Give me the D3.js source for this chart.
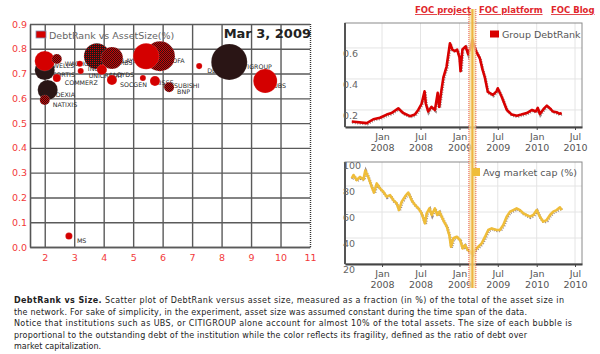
<!DOCTYPE html>
<html lang="en">
<head>
<meta charset="utf-8">
<title>DebtRank vs Size</title>
<script src="https://d3js.org/d3.v7.min.js"></script>
<style>
  body { margin: 0; background: #fff; }
  svg { display: block; font-family: "DejaVu Sans", Verdana, sans-serif; }
  .link { font-weight: bold; fill: #e0262c; font-size: 8.5px; text-decoration: underline; }
  .bankLabel { font-size: 6.3px; fill: #2a2a2a; }
  .caption { font-size: 8px; fill: #222; }
</style>
</head>
<body>
<svg width="600" height="354"></svg>
<script>

  // ---------- scatter data (drawing order) ----------
  var banks     = ["FORTIS", "WELLS", "WACHOVIA", "COMMERZ", "DEXIA", "NATIXIS", "ING", "UNICREDIT",
                   "BARCLAYS", "RBS", "LLOYDS", "SOCGEN", "CAISSE", "BOFA", "HSBC", "MITSUBISHI",
                   "BNP", "DEUTSCHE", "CITIGROUP", "UBS", "MS"];
  var assetSize = [2.0, 2.0, 2.41, 2.41, 2.1, 2.0, 3.19, 3.22,
                   3.77, 4.28, 3.94, 4.28, 5.33, 5.91, 5.44, 5.74,
                   6.22, 7.24, 8.26, 9.48, 2.82];
  var debtRank  = [0.714, 0.751, 0.759, 0.682, 0.634, 0.593, 0.74, 0.71,
                   0.77, 0.763, 0.715, 0.674, 0.682, 0.77, 0.77, 0.67,
                   0.645, 0.73, 0.747, 0.67, 0.044];
  var debt      = [31, 31, 7.7, 4.9, 31, 7.7, 2.8, 2.8,
                   52, 37, 7.7, 7.7, 2.8, 69, 52, 7.7,
                   7.7, 2.8, 100, 44, 3.8];
  // 0 = low fragility ... 3 = high fragility
  var fragility = [3, 0, 1, 0, 3, 1, 0, 0,
                   2, 1, 0, 0, 0, 1, 0, 0,
                   1, 0, 3, 0, 0];
  var xTicks = [2, 3, 4, 5, 6, 7, 8, 9, 10, 11];
  var yTicks = [0, 0.1, 0.2, 0.3, 0.4, 0.5, 0.6, 0.7, 0.8, 0.9];
  var snapshotDate = "2009-03-03";

  // ---------- Group DebtRank series ----------
  var drDates = ["2007-08-11","2007-10-21","2007-11-21","2007-12-22","2008-01-23","2008-02-15","2008-03-18",
    "2008-04-10","2008-05-12","2008-06-04","2008-06-20","2008-07-06","2008-07-20","2008-07-26","2008-08-06",
    "2008-08-22","2008-09-07","2008-09-20","2008-09-27","2008-10-08","2008-10-17","2008-11-01","2008-11-17",
    "2008-11-28","2008-12-10","2008-12-21","2009-01-01","2009-01-06","2009-01-15","2009-01-30","2009-02-11",
    "2009-02-24","2009-03-03","2009-03-20","2009-04-07","2009-04-20","2009-05-01","2009-05-15","2009-06-08",
    "2009-06-25","2009-07-01","2009-07-20","2009-08-13","2009-09-05","2009-09-29","2009-10-20","2009-11-15",
    "2009-12-10","2009-12-28","2010-01-06","2010-01-16","2010-02-05","2010-02-18","2010-03-05","2010-03-18",
    "2010-04-05","2010-04-20","2010-04-29"];
  var drValues = [0.125, 0.115, 0.14, 0.15, 0.17, 0.18, 0.21,
    0.18, 0.16, 0.17, 0.2, 0.24, 0.32, 0.24, 0.19,
    0.22, 0.2, 0.31, 0.22, 0.33, 0.41, 0.48, 0.63,
    0.59, 0.58, 0.59, 0.54, 0.45, 0.59, 0.61, 0.56,
    0.61, 0.65, 0.58, 0.535, 0.46, 0.41, 0.316, 0.297,
    0.32, 0.34, 0.284, 0.2, 0.17, 0.163, 0.17, 0.18,
    0.2, 0.19, 0.213, 0.174, 0.21, 0.228, 0.21, 0.19,
    0.185, 0.175, 0.18];

  // ---------- Avg market cap series ----------
  var mcDates = ["2007-08-11","2007-08-19","2007-09-03","2007-09-19","2007-10-05","2007-10-14","2007-10-28",
    "2007-11-13","2007-11-24","2007-12-07","2007-12-23","2008-01-07","2008-01-23","2008-02-08","2008-02-24",
    "2008-03-10","2008-03-21","2008-04-03","2008-04-19","2008-05-04","2008-05-20","2008-06-05","2008-06-21",
    "2008-07-06","2008-07-22","2008-07-30","2008-08-12","2008-08-23","2008-09-07","2008-09-18","2008-09-28",
    "2008-10-09","2008-10-20","2008-11-02","2008-11-14","2008-11-22","2008-12-03","2008-12-19","2009-01-04",
    "2009-01-16","2009-01-27","2009-02-09","2009-02-20","2009-03-04","2009-03-15","2009-03-31","2009-04-16",
    "2009-05-02","2009-05-17","2009-06-02","2009-06-26","2009-07-11","2009-07-27","2009-08-12","2009-08-28",
    "2009-09-12","2009-09-28","2009-10-14","2009-10-30","2009-11-14","2009-11-30","2009-12-16","2010-01-01",
    "2010-01-16","2010-02-01","2010-02-17","2010-03-05","2010-03-20","2010-04-05","2010-04-21","2010-04-29"];
  var mcValues = [86, 88.5, 84.6, 87, 85, 92, 87,
    79.5, 75, 82, 78, 75.6, 71.8, 73, 69,
    66.7, 61.5, 68, 72, 75, 69, 65.4, 62.8,
    59, 51.3, 59, 62.8, 57.7, 62.8, 57.7, 60.3,
    56.4, 52.6, 48.7, 42.3, 33.3, 39.8, 41, 38.5,
    32, 34.6, 30.8, 29.5, 27.7, 30.8, 33.3, 35.9,
    41, 46.2, 47.4, 46.2, 46.2, 50, 56.4, 60.3,
    61.5, 62.8, 61.5, 59, 57.7, 56.4, 57.7, 61.5,
    56.4, 52.6, 53.8, 57.7, 60.3, 61.5, 63.6, 61.5];

  var captionLines = [
    " Scatter plot of DebtRank versus asset size, measured as a fraction (in %) of the total of the asset size in",
    "the network. For sake of simplicity, in the experiment, asset size was assumed constant during the time span of the data.",
    "Notice that institutions such as UBS, or CITIGROUP alone account for almost 10% of the total assets. The size of each bubble is",
    "proportional to the outstanding debt of the institution while the color reflects its fragility, defined as the ratio of debt over",
    "market capitalization."
  ];
  var linkLabels = ["FOC project", "FOC platform", "FOC Blog"];

  var svg = d3.select("svg");
  var red = "#d40000", dark = "#2a1515", tickRed = "#f23a3a", font = "DejaVu Sans";
  var parse = d3.timeParse("%Y-%m-%d");

  // checker patterns for mid fragility
  var defs = svg.append("defs");
  function checker(id, base, dot, both) {
    var p = defs.append("pattern").attr("id", id).attr("width", 2).attr("height", 2)
      .attr("patternUnits", "userSpaceOnUse");
    p.append("rect").attr("width", 2).attr("height", 2).attr("fill", base);
    p.append("rect").attr("width", 1).attr("height", 1).attr("fill", dot);
    if (both) p.append("rect").attr("x", 1).attr("y", 1).attr("width", 1).attr("height", 1).attr("fill", dot);
  }
  checker("chkRed", red, dark, true);
  checker("chkDark", dark, red, false);

  // ================= scatter =================
  var x = d3.scaleLinear().domain([1.5, 11]).range([30, 310]);
  var y = d3.scaleLinear().domain([0, 0.9]).range([247, 24]);
  var r = d3.scaleSqrt().domain([0, 100]).range([0, 18]);
  var fill = d3.scaleOrdinal().domain([0, 1, 2, 3]).range([red, "url(#chkRed)", "url(#chkDark)", dark]);

  var gx = svg.append("g").attr("transform", "translate(0,247)")
    .call(d3.axisBottom(x).tickValues(xTicks).tickSize(-223).tickSizeOuter(0).tickPadding(7)
      .tickFormat(d3.format("d")));
  var gy = svg.append("g").attr("transform", "translate(30,0)")
    .call(d3.axisLeft(y).tickValues(yTicks).tickSize(-280).tickSizeOuter(0).tickPadding(3)
      .tickFormat(d3.format(".1f")));
  [gx, gy].forEach(function(g) {
    g.attr("font-family", font).attr("font-size", 9.5);
    g.select(".domain").attr("stroke", "#555").attr("stroke-width", 1.6);
    g.selectAll(".tick line").attr("stroke", "#5a5a5a").attr("stroke-width", 1.4);
    g.selectAll(".tick text").attr("fill", tickRed);
  });
  gx.selectAll(".tick line").filter(function(d) { return d === 11; })
    .attr("stroke-dasharray", "1,1").attr("stroke", "#333");

  var pts = banks.map(function(b, i) {
    return {name: b, x: assetSize[i], y: debtRank[i], debt: debt[i], frag: fragility[i]};
  });

  svg.append("g").selectAll("text").data(pts).join("text")
    .attr("class", "bankLabel")
    .attr("x", function(d) { return x(d.x) + 8; })
    .attr("y", function(d) { return y(d.y) + 7; })
    .text(function(d) { return d.name; });

  svg.append("g").selectAll("circle").data(pts).join("circle")
    .attr("cx", function(d) { return x(d.x); })
    .attr("cy", function(d) { return y(d.y); })
    .attr("r", function(d) { return r(d.debt); })
    .attr("fill", function(d) { return fill(d.frag); })
    .attr("stroke", "rgba(255,255,255,0.25)").attr("stroke-width", 0.5);

  // scatter legend and date
  svg.append("rect").attr("x", 36).attr("y", 31).attr("width", 10).attr("height", 7)
    .attr("fill", red).attr("stroke", "#8090b0").attr("stroke-width", 0.8);
  svg.append("text").attr("x", 49).attr("y", 38.5).attr("font-size", 9.5).attr("fill", "#666")
    .text("DebtRank vs AssetSize(%)");
  svg.append("text").attr("x", 311).attr("y", 38).attr("text-anchor", "end")
    .attr("font-size", 13).attr("font-weight", "bold").attr("fill", "#222")
    .text(d3.timeFormat("%b %-d, %Y")(parse(snapshotDate)));

  // ================= time series panels =================
  var t = d3.scaleTime().domain([new Date(2007, 6, 10), new Date(2010, 7, 3)]).range([345, 582]);
  var monthTicks = t.ticks(d3.timeMonth.every(6));

  function panel(top, bottom, yDomain, ticks, fmt, dates, values, color) {
    var ys = d3.scaleLinear().domain(yDomain).range([bottom, top]);
    var g = svg.append("g");
    g.append("g").selectAll("line").data(monthTicks).join("line")
      .attr("x1", t).attr("x2", t).attr("y1", top).attr("y2", bottom)
      .attr("stroke", "#e4e4e4").attr("stroke-width", 1);
    g.append("g").selectAll("line").data(ticks.filter(function(v) { return ys(v) > top && ys(v) < bottom; }))
      .join("line")
      .attr("x1", 345).attr("x2", 582).attr("y1", ys).attr("y2", ys)
      .attr("stroke", "#e4e4e4").attr("stroke-width", 1);

    var data = dates.map(function(d, i) { return [parse(d), values[i]]; });
    var line = d3.line().x(function(d) { return t(d[0]); }).y(function(d) { return ys(d[1]); });
    g.append("path").datum(data).attr("d", line).attr("fill", "none")
      .attr("stroke", "#9a8a8a").attr("stroke-width", 3).attr("transform", "translate(0.6,0.9)")
      .attr("stroke-dasharray", "1,1.5");
    g.append("path").datum(data).attr("d", line).attr("fill", "none")
      .attr("stroke", color).attr("stroke-width", 2.6).attr("stroke-linejoin", "round");

    // frame
    g.append("rect").attr("x", 345).attr("y", top).attr("width", 237).attr("height", bottom - top)
      .attr("fill", "none").attr("stroke", "#8a8a8a").attr("stroke-width", 1);
    g.append("line").attr("x1", 345).attr("x2", 345).attr("y1", top).attr("y2", bottom)
      .attr("stroke", "#555").attr("stroke-width", 2);

    var ax = g.append("g").attr("transform", "translate(0," + bottom + ")")
      .call(d3.axisBottom(t).tickValues(monthTicks).tickSize(3).tickSizeOuter(0).tickPadding(3)
        .tickFormat(function() { return ""; }));
    ax.select(".domain").attr("stroke", "#444").attr("stroke-width", 2);
    ax.selectAll(".tick line").attr("stroke", "#444");
    ax.selectAll(".tick text").attr("fill", "#555").attr("font-family", font).attr("font-size", 9.5)
      .each(function(d) {
        var s = d3.select(this);
        s.append("tspan").attr("x", 0).attr("dy", "0.75em").text(d3.timeFormat("%b")(d));
        s.append("tspan").attr("x", 0).attr("dy", "1.1em").text(d3.timeFormat("%Y")(d));
      });

    g.append("g").selectAll("text").data(ticks).join("text")
      .attr("x", 343).attr("y", function(v) { return ys(v) + 9; })
      .attr("font-size", 9.5).attr("fill", "#666")
      .text(fmt);
    return ys;
  }

  panel(23, 127, [0.09, 0.761], [0.2, 0.4, 0.6], d3.format(".1f"), drDates, drValues, "#d80000");
  panel(162, 264, [20, 98.5], [20, 40, 60, 80, 100], d3.format("d"), mcDates, mcValues, "#efbd3a");

  // snapshot band
  var bx = t(parse(snapshotDate));
  svg.append("rect").attr("x", bx - 3.5).attr("y", 9).attr("width", 7).attr("height", 279)
    .attr("fill", "#f6dfa0").attr("opacity", 0.75);
  svg.append("line").attr("x1", bx).attr("x2", bx).attr("y1", 9).attr("y2", 288)
    .attr("stroke", "#eeb540").attr("stroke-width", 2);
  [-3.5, 3.5].forEach(function(o) {
    svg.append("line").attr("x1", bx + o).attr("x2", bx + o).attr("y1", 9).attr("y2", 288)
      .attr("stroke", "#e83030").attr("stroke-width", 0.8).attr("stroke-dasharray", "1,1");
  });

  // panel legends
  svg.append("rect").attr("x", 490).attr("y", 30.5).attr("width", 9).attr("height", 7).attr("fill", "#d80000");
  svg.append("text").attr("x", 502).attr("y", 37.5).attr("font-size", 9.5).attr("fill", "#555")
    .text("Group DebtRank");
  svg.append("rect").attr("x", 472).attr("y", 168).attr("width", 8).attr("height", 8).attr("fill", "#efbd3a");
  svg.append("text").attr("x", 483).attr("y", 176).attr("font-size", 9.5).attr("fill", "#555")
    .text("Avg market cap (%)");

  // links
  var linkX = [415, 479, 551];
  svg.append("g").selectAll("text").data(linkLabels).join("text")
    .attr("class", "link")
    .attr("x", function(d, i) { return linkX[i]; }).attr("y", 13)
    .text(function(d) { return d; });

  // caption
  var capWidths = [550, 513, 558, 513, null];
  var cap = svg.append("g").attr("class", "caption");
  captionLines.forEach(function(line, i) {
    var tx = cap.append("text").attr("x", 14).attr("y", 303 + i * 11.5);
    if (capWidths[i]) tx.attr("textLength", capWidths[i]).attr("lengthAdjust", "spacing");
    if (i === 0) tx.append("tspan").attr("font-weight", "bold").text("DebtRank vs Size.");
    tx.append("tspan").text(line);
  });
</script>
</body>
</html>
